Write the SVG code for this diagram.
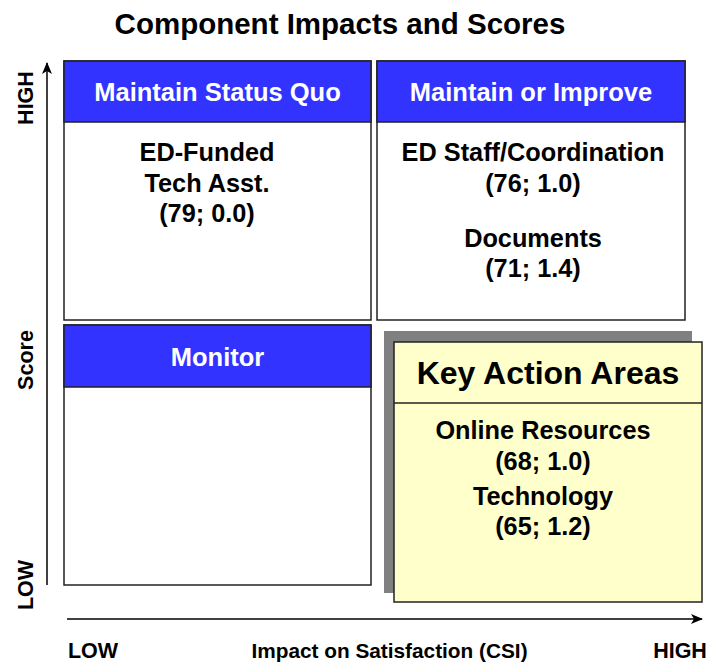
<svg xmlns="http://www.w3.org/2000/svg" width="707" height="662" viewBox="0 0 707 662">
<defs>
<style>
text{font-family:"Liberation Sans",Arial,sans-serif;font-weight:bold;text-anchor:middle;fill:#000}
.hdr{fill:#3333FF;stroke:#222;stroke-width:1.5}
.box{fill:#fff;stroke:#222;stroke-width:1.5}
.ht{fill:#fff;font-size:25.5px}
.bt{font-size:25.3px}
.ax{font-size:21.5px}
.line{stroke:#000;stroke-width:1.5;fill:none}
</style>
<marker id="arr" viewBox="0 0 12 10" refX="11" refY="5" markerWidth="12" markerHeight="10" markerUnits="userSpaceOnUse" orient="auto">
<path d="M0,0 L12,5 L0,10 L3,5 Z" fill="#000"/>
</marker>
</defs>
<rect width="707" height="662" fill="#fff"/>
<text x="340" y="34" style="font-size:29.5px">Component Impacts and Scores</text>

<g id="maintain-status-quo">
<rect class="box" x="64" y="61" width="307" height="259"/>
<rect class="hdr" x="64" y="61" width="307" height="61"/>
<text class="ht" x="217.5" y="101">Maintain Status Quo</text>
<text class="bt" x="207" y="161">ED-Funded</text>
<text class="bt" x="207" y="192">Tech Asst.</text>
<text class="bt" x="207" y="222">(79; 0.0)</text>
</g>

<g id="maintain-or-improve">
<rect class="box" x="377" y="61" width="308" height="259"/>
<rect class="hdr" x="377" y="61" width="308" height="61"/>
<text class="ht" x="531" y="101">Maintain or Improve</text>
<text class="bt" x="533" y="161">ED Staff/Coordination</text>
<text class="bt" x="533" y="192">(76; 1.0)</text>
<text class="bt" x="533" y="247">Documents</text>
<text class="bt" x="533" y="277">(71; 1.4)</text>
</g>

<g id="monitor">
<rect class="box" x="64" y="325" width="307" height="260"/>
<rect class="hdr" x="64" y="325" width="307" height="62"/>
<text class="ht" x="217.5" y="366">Monitor</text>
</g>

<g id="key-action-areas">
<rect x="384" y="331" width="308" height="262" fill="#808080"/>
<rect x="394" y="342" width="308" height="260" fill="#FFFFCC" stroke="#222" stroke-width="1.5"/>
<line x1="394" y1="403" x2="702" y2="403" stroke="#222" stroke-width="1.5"/>
<text x="548" y="384" style="font-size:32px">Key Action Areas</text>
<text class="bt" x="543" y="439">Online Resources</text>
<text class="bt" x="543" y="470">(68; 1.0)</text>
<text class="bt" x="543" y="505">Technology</text>
<text class="bt" x="543" y="535">(65; 1.2)</text>
</g>

<g id="connectors">
<line class="line" x1="47" y1="585" x2="47" y2="63" marker-end="url(#arr)"/>
<line class="line" x1="67" y1="619" x2="702" y2="619" marker-end="url(#arr)"/>
</g>

<g id="axis-labels">
<text class="ax" transform="translate(33,98) rotate(-90)">HIGH</text>
<text class="ax" transform="translate(33,360) rotate(-90)">Score</text>
<text class="ax" transform="translate(33,585) rotate(-90)">LOW</text>
<text class="ax" x="93" y="658">LOW</text>
<text class="ax" x="389.5" y="658" style="font-size:20.8px">Impact on Satisfaction (CSI)</text>
<text class="ax" x="680" y="658">HIGH</text>
</g>
</svg>
